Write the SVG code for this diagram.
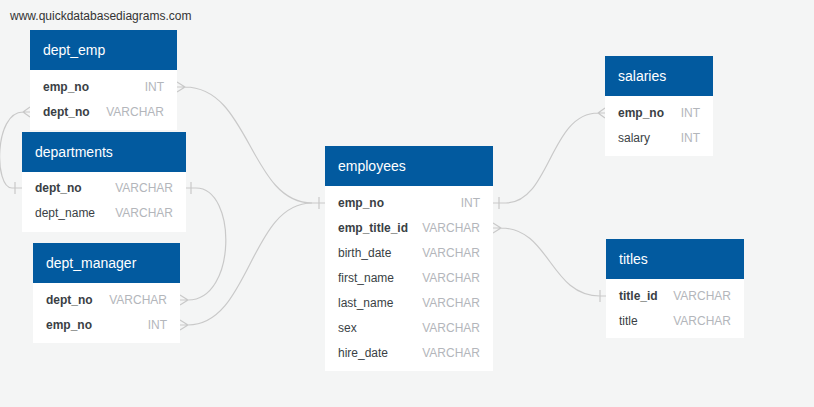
<svg xmlns="http://www.w3.org/2000/svg" width="814" height="407" viewBox="0 0 814 407">
<style>
.bg{fill:#f4f5f5}
.hd{fill:#025a9f}
.bd{fill:#ffffff}
.tt{font-family:"Liberation Sans",Arial,sans-serif;font-size:14px;fill:#ffffff}
.nm{font-family:"Liberation Sans",Arial,sans-serif;font-size:12px;fill:#3a3f45}
.k{font-weight:bold}
.ty{font-family:"Liberation Sans",Arial,sans-serif;font-size:12px;fill:#b3b6bb;text-anchor:end}
.ln{fill:none;stroke:#c9c9c9;stroke-width:1.2}
.wm{font-family:"Liberation Sans",Arial,sans-serif;font-size:12px;fill:#333333}
</style>
<rect class="bg" x="0" y="0" width="814" height="407"/>
<text class="wm" x="10" y="20">www.quickdatabasediagrams.com</text>

<g id="connectors">
  <!-- dept_emp.emp_no -> employees.emp_no -->
  <path class="ln" d="M177 82 L185 87 L177 92 M177 87 H185 C250 87 250 203 312 203 H325 M319 197 V209"/>
  <!-- dept_manager.emp_no -> employees.emp_no -->
  <path class="ln" d="M180 320 L188 325 L180 330 M180 325 H188 C250 325 250 203 312 203"/>
  <!-- departments.dept_no (right) -> dept_manager.dept_no -->
  <path class="ln" d="M186 188 H196 C237 188 237 300 188 300 H180 M180 295 L188 300 L180 305 M191 182 V194"/>
  <!-- departments.dept_no (left) -> dept_emp.dept_no -->
  <path class="ln" d="M22 188 H12 C-6 188 -6 112 23 112 H30 M30 107 L23 112 L30 117 M15 182 V194"/>
  <!-- employees.emp_no -> salaries.emp_no -->
  <path class="ln" d="M493 203 H506 C550 203 550 113 598 113 H605 M605 108 L598 113 L605 118 M499 197 V209"/>
  <!-- employees.emp_title_id -> titles.title_id -->
  <path class="ln" d="M493 223 L501 228 L493 233 M493 228 H501 C550 228 550 296 600 296 H606 M600 290 V302"/>
</g>

<g id="dept_emp">
  <rect class="bd" x="30" y="70" width="147" height="60"/>
  <rect class="hd" x="30" y="30" width="147" height="40"/>
  <text class="tt" x="43" y="55">dept_emp</text>
  <text class="nm k" x="43" y="91">emp_no</text><text class="ty" x="164" y="91">INT</text>
  <text class="nm k" x="43" y="116">dept_no</text><text class="ty" x="164" y="116">VARCHAR</text>
</g>

<g id="departments">
  <rect class="bd" x="22" y="172" width="164" height="60"/>
  <rect class="hd" x="22" y="132" width="164" height="40"/>
  <text class="tt" x="35" y="157">departments</text>
  <text class="nm k" x="35" y="192">dept_no</text><text class="ty" x="173" y="192">VARCHAR</text>
  <text class="nm" x="35" y="217">dept_name</text><text class="ty" x="173" y="217">VARCHAR</text>
</g>

<g id="dept_manager">
  <rect class="bd" x="33" y="283" width="147" height="60"/>
  <rect class="hd" x="33" y="243" width="147" height="40"/>
  <text class="tt" x="46" y="268">dept_manager</text>
  <text class="nm k" x="46" y="304">dept_no</text><text class="ty" x="167" y="304">VARCHAR</text>
  <text class="nm k" x="46" y="329">emp_no</text><text class="ty" x="167" y="329">INT</text>
</g>

<g id="employees">
  <rect class="bd" x="325" y="186" width="168" height="185"/>
  <rect class="hd" x="325" y="146" width="168" height="40"/>
  <text class="tt" x="338" y="171">employees</text>
  <text class="nm k" x="338" y="207">emp_no</text><text class="ty" x="480" y="207">INT</text>
  <text class="nm k" x="338" y="232">emp_title_id</text><text class="ty" x="480" y="232">VARCHAR</text>
  <text class="nm" x="338" y="257">birth_date</text><text class="ty" x="480" y="257">VARCHAR</text>
  <text class="nm" x="338" y="282">first_name</text><text class="ty" x="480" y="282">VARCHAR</text>
  <text class="nm" x="338" y="307">last_name</text><text class="ty" x="480" y="307">VARCHAR</text>
  <text class="nm" x="338" y="332">sex</text><text class="ty" x="480" y="332">VARCHAR</text>
  <text class="nm" x="338" y="357">hire_date</text><text class="ty" x="480" y="357">VARCHAR</text>
</g>

<g id="salaries">
  <rect class="bd" x="605" y="96" width="108" height="60"/>
  <rect class="hd" x="605" y="56" width="108" height="40"/>
  <text class="tt" x="618" y="81">salaries</text>
  <text class="nm k" x="618" y="117">emp_no</text><text class="ty" x="700" y="117">INT</text>
  <text class="nm" x="618" y="142">salary</text><text class="ty" x="700" y="142">INT</text>
</g>

<g id="titles">
  <rect class="bd" x="606" y="279" width="138" height="59"/>
  <rect class="hd" x="606" y="239" width="138" height="40"/>
  <text class="tt" x="619" y="264">titles</text>
  <text class="nm k" x="619" y="300">title_id</text><text class="ty" x="731" y="300">VARCHAR</text>
  <text class="nm" x="619" y="325">title</text><text class="ty" x="731" y="325">VARCHAR</text>
</g>
</svg>
